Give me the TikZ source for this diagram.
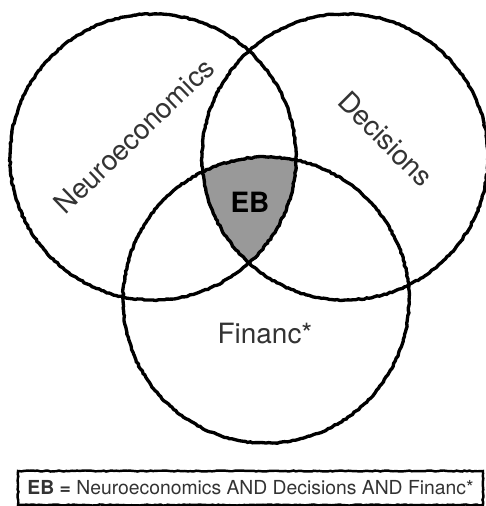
\documentclass[tikz,border=0pt]{standalone}
\usepackage{fontspec}
\setmainfont{TeX Gyre Heros}
\usetikzlibrary{decorations.pathmorphing}

\tikzset{
  vennring/.style={draw=black, line width=1.9pt, decorate,
    decoration={random steps, segment length=1.5pt, amplitude=0.35pt}},
  setlabel/.style={text=black!80, font=\fontsize{15.9}{18}\selectfont},
  legendbox/.style={draw=black, line width=1.4pt, decorate,
    decoration={random steps, segment length=1.5pt, amplitude=0.3pt},
    minimum width=9.3cm, minimum height=0.68cm, inner sep=0pt,
    text=black!80, font=\fontsize{11}{13}\selectfont},
}

\begin{document}
\begin{tikzpicture}[x=0.02cm, y=-0.02cm]
  \useasboundingbox (0,0) rectangle (485,506);
  \pgfmathsetseed{7}
  % part shared by all three sets
  \begin{scope}
    \clip (153,157) circle (143);
    \clip (345,157) circle (143);
    \fill[black!40] (266,300) circle (143);
  \end{scope}
  \foreach \cx/\cy in {153/157, 345/157, 266/300} {
    \draw[vennring] (\cx,\cy) circle (143);
  }
  \node[setlabel, rotate=44] (neuro) at (134,136) {Neuroeconomics};
  \node[setlabel, rotate=-45] (decis) at (386,139) {Decisions};
  \node[setlabel] (financ) at (265,334) {Financ*};
  \node[font=\fontsize{15.9}{18}\selectfont\bfseries] (eb) at (250,202) {EB};
  \node[legendbox] (legend) at (250.5,488) {\textbf{EB =} Neuroeconomics AND Decisions AND Financ*};
\end{tikzpicture}
\end{document}
